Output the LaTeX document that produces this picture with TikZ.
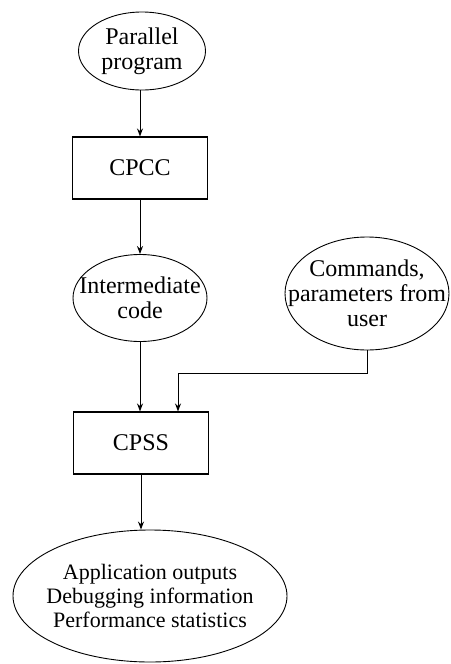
\documentclass[tikz,border=0pt]{standalone}
\usepackage{fontspec}
\setmainfont{Liberation Serif}
\usetikzlibrary{shapes.geometric,arrows.meta}
\begin{document}
\begin{tikzpicture}[x=1pt,y=-1pt,
  txt/.style={font=\fontsize{24}{25}\selectfont, align=center, inner sep=0pt},
  smalltxt/.style={font=\fontsize{22}{24}\selectfont, align=center, inner sep=0pt},
  every node/.style={txt},
  oval/.style={draw, ellipse, line width=0.9pt, inner sep=0pt},
  boxnode/.style={draw, rectangle, line width=1.1pt},
  conn/.style={line width=1pt, -{Stealth[length=8pt,width=6pt]}}]
\useasboundingbox (0,0) rectangle (450,664);
\node[oval, minimum width=127pt, minimum height=78pt,
  label={[txt]center:Parallel\\program}] (par) at (142,51) {};
\node[boxnode, minimum width=135pt, minimum height=62pt] (cpcc) at (140,168) {CPCC};
\node[oval, minimum width=134pt, minimum height=87pt,
  label={[txt]center:Intermediate\\code}] (inter) at (140,298) {};
\node[oval, minimum width=164pt, minimum height=113pt,
  label={[txt]center:Commands,\\parameters from\\user}] (cmd) at (367,293.5) {};
\node[boxnode, minimum width=135pt, minimum height=62pt] (cpss) at (141,443) {CPSS};
\node[oval, minimum width=274pt, minimum height=132pt,
  label={[smalltxt]center:Application outputs\\Debugging information\\Performance statistics}] (out) at (150,596) {};
\coordinate (bend) at (178,373);
\draw[conn] (par.south -| cpcc.north) -- (cpcc.north);
\draw[conn] (cpcc.south) -- (inter.north);
\draw[conn] (inter.south) -- (inter.south |- cpss.north);
\draw[conn] (cmd.south) |- (bend) -- (bend |- cpss.north);
\draw[conn] (cpss.south) -- (cpss.south |- out.north);
\end{tikzpicture}
\end{document}
